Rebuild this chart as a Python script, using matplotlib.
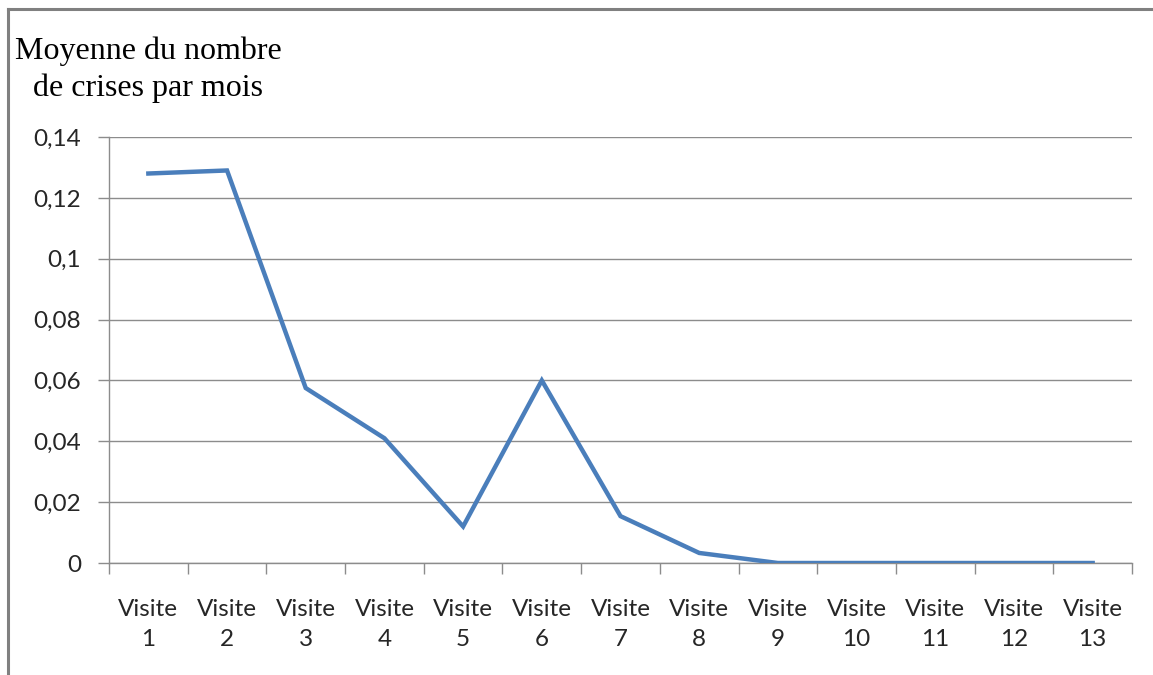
import matplotlib as mpl
mpl.use('Agg')
import matplotlib.pyplot as plt
from matplotlib.lines import Line2D

# data
visites = ['Visite\n%d' % i for i in range(1, 14)]
moyenne = [0.128, 0.129, 0.0575, 0.041, 0.012, 0.060, 0.0154, 0.0033,
           0.0, 0.0, 0.0, 0.0, 0.0]
yticks = [0, 0.02, 0.04, 0.06, 0.08, 0.1, 0.12, 0.14]
ylabels = ['0', '0,02', '0,04', '0,06', '0,08', '0,1', '0,12', '0,14']

W, H = 1153, 675
fig = plt.figure(figsize=(W / 100, H / 100), dpi=100)
fig.patch.set_facecolor('white')

# chart border (top and left only visible)
fig.add_artist(Line2D([8 / W, 1], [1 - 9 / H, 1 - 9 / H], color='#808080', lw=2.2))
fig.add_artist(Line2D([8 / W, 8 / W], [0, 1 - 9 / H], color='#808080', lw=2.2))

ax = fig.add_axes([109 / W, 1 - 563 / H, (1132 - 109) / W, (563 - 137) / H])
x = list(range(len(visites)))
ax.plot(x, moyenne, color='#4a7ebb', lw=3.2, solid_joinstyle='miter', zorder=3)

ax.set_xlim(-0.5, len(visites) - 0.5)
ax.set_ylim(0, 0.14)
ax.set_yticks(yticks)
ax.set_yticklabels(ylabels)
ax.grid(axis='y', color='#8c8c8c', lw=1.0)
ax.set_axisbelow(True)

ax.set_xticks(x)
ax.set_xticklabels(visites, linespacing=1.55)
ax.set_xticks([i - 0.5 for i in range(len(visites) + 1)], minor=True)
ax.tick_params(axis='x', which='major', length=0, pad=26)
ax.tick_params(axis='x', which='minor', length=8, color='#8c8c8c', width=1)
ax.tick_params(axis='y', length=8, color='#8c8c8c', width=1, pad=12)
for lab in ax.get_xticklabels() + ax.get_yticklabels():
    lab.set_fontfamily('Lato')
    lab.set_fontsize(17.5)
    lab.set_color('#262626')

for s in ['top', 'right']:
    ax.spines[s].set_visible(False)
for s in ['left', 'bottom']:
    ax.spines[s].set_color('#8c8c8c')
    ax.spines[s].set_linewidth(1.0)

fig.text(148 / W, 1 - 70 / H, 'Moyenne du nombre\nde crises par mois', ha='center', va='center',
         family='Liberation Serif', fontsize=23, linespacing=1.35, color='black')

fig.savefig('out.png', dpi=100)
